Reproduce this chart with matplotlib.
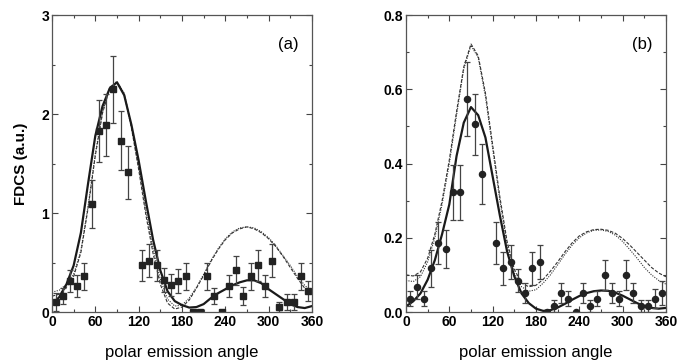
import numpy as np
import matplotlib
matplotlib.use('Agg')
import matplotlib.pyplot as plt
from matplotlib.ticker import MultipleLocator

plt.rcParams['font.family'] = ['Liberation Sans', 'DejaVu Sans']

# measured points (every 10 deg, 115 deg missing)
ang_pts = [5, 15, 25, 35, 45, 55, 65, 75, 85, 95, 105, 125, 135, 145, 155, 165, 175,
           185, 195, 205, 215, 225, 235, 245, 255, 265, 275, 285, 295, 305, 315, 325,
           335, 345, 355]

fdcs_a = [0.10, 0.16, 0.31, 0.26, 0.36, 1.09, 1.83, 1.89, 2.25, 1.73, 1.41, 0.47, 0.52,
          0.47, 0.32, 0.27, 0.31, 0.36, 0.0, 0.0, 0.36, 0.16, 0.0, 0.26, 0.42, 0.16,
          0.36, 0.47, 0.26, 0.52, 0.05, 0.10, 0.10, 0.36, 0.21]
err_a = [0.09, 0.08, 0.11, 0.11, 0.14, 0.24, 0.31, 0.31, 0.34, 0.30, 0.27, 0.16, 0.17,
         0.16, 0.12, 0.11, 0.12, 0.14, 0.0, 0.0, 0.14, 0.08, 0.0, 0.11, 0.15, 0.09,
         0.14, 0.16, 0.11, 0.17, 0.05, 0.08, 0.08, 0.14, 0.10]

fdcs_b = [0.036, 0.067, 0.036, 0.118, 0.186, 0.17, 0.322, 0.322, 0.574, 0.506, 0.372,
          0.186, 0.118, 0.135, 0.084, 0.051, 0.118, 0.135, 0.0, 0.017, 0.051, 0.036,
          0.0, 0.051, 0.017, 0.036, 0.1, 0.051, 0.036, 0.1, 0.051, 0.017, 0.017, 0.036,
          0.051]
err_b = [0.02, 0.033, 0.02, 0.05, 0.057, 0.052, 0.074, 0.074, 0.10, 0.082, 0.08, 0.057,
         0.044, 0.045, 0.031, 0.028, 0.044, 0.045, 0.0, 0.016, 0.028, 0.02, 0.0, 0.028,
         0.016, 0.02, 0.04, 0.028, 0.02, 0.04, 0.028, 0.016, 0.016, 0.025, 0.033]

# theory curves, read every 10 deg
ang_th = list(range(0, 361, 10))

solid_a = [0.08, 0.15, 0.28, 0.47, 0.80, 1.30, 1.78, 2.08, 2.26, 2.32, 2.19, 1.89, 1.53,
           1.12, 0.73, 0.42, 0.21, 0.11, 0.07, 0.045, 0.05, 0.08, 0.14, 0.19, 0.23, 0.27,
           0.30, 0.32, 0.32, 0.29, 0.23, 0.18, 0.13, 0.08, 0.05, 0.04, 0.06]
dot_a = [0.20, 0.22, 0.28, 0.38, 0.62, 1.07, 1.60, 2.02, 2.27, 2.33, 2.21, 1.88, 1.47,
         1.02, 0.64, 0.33, 0.13, 0.06, 0.07, 0.14, 0.25, 0.38, 0.52, 0.64, 0.74, 0.81,
         0.85, 0.86, 0.85, 0.81, 0.75, 0.67, 0.57, 0.47, 0.36, 0.27, 0.20]
dash_a = [0.16, 0.18, 0.25, 0.36, 0.60, 1.05, 1.58, 2.01, 2.26, 2.32, 2.20, 1.86, 1.44,
          0.98, 0.59, 0.28, 0.09, 0.03, 0.05, 0.12, 0.24, 0.37, 0.51, 0.63, 0.73, 0.80,
          0.84, 0.86, 0.84, 0.80, 0.74, 0.66, 0.56, 0.45, 0.34, 0.24, 0.17]

solid_b = [0.015, 0.029, 0.05, 0.087, 0.14, 0.21, 0.29, 0.42, 0.51, 0.552, 0.53, 0.47,
           0.365, 0.26, 0.163, 0.096, 0.05, 0.024, 0.009, 0.003, 0.005, 0.012, 0.022,
           0.033, 0.043, 0.051, 0.056, 0.058, 0.057, 0.052, 0.044, 0.034, 0.024, 0.016,
           0.011, 0.009, 0.011]
dash_b = [0.100, 0.097, 0.108, 0.145, 0.21, 0.30, 0.41, 0.54, 0.66, 0.722, 0.69, 0.59,
          0.45, 0.31, 0.19, 0.115, 0.078, 0.068, 0.072, 0.088, 0.11, 0.135, 0.162, 0.186,
          0.205, 0.216, 0.222, 0.223, 0.22, 0.212, 0.198, 0.18, 0.16, 0.14, 0.12, 0.105,
          0.095]
dot_b = [0.085, 0.082, 0.095, 0.135, 0.20, 0.29, 0.40, 0.53, 0.655, 0.718, 0.685, 0.58,
         0.44, 0.30, 0.18, 0.105, 0.068, 0.056, 0.06, 0.078, 0.10, 0.127, 0.155, 0.18,
         0.20, 0.213, 0.22, 0.221, 0.217, 0.207, 0.19, 0.168, 0.145, 0.12, 0.1, 0.085,
         0.075]

fig = plt.figure(figsize=(6.77, 3.6), dpi=100)
ax_a = fig.add_axes([0.0768, 0.1333, 0.384, 0.825])
ax_b = fig.add_axes([0.5997, 0.1333, 0.384, 0.825])

panels = [
    (ax_a, fdcs_a, err_a, solid_a, dot_a, dash_a, 's', 3.0, 1.0, 0.5, '(a)', '%d'),
    (ax_b, fdcs_b, err_b, solid_b, dot_b, dash_b, 'o', 0.8, 0.2, 0.1, '(b)', '%.1f'),
]

for ax, y, e, s, d1, d2, mk, ymax, ymaj, ymin, tag, fmt in panels:
    ax.plot(ang_th, d1, color='#333333', lw=0.8, ls=(0, (1, 1.2)))
    ax.plot(ang_th, d2, color='#333333', lw=0.8, ls=(0, (3, 1.5)))
    ax.plot(ang_th, s, color='#1a1a1a', lw=1.6)
    ax.errorbar(ang_pts, y, yerr=e, fmt=mk, ms=4.4, color='#222222', ecolor='#444444',
                elinewidth=0.9, capsize=2.2, capthick=0.9)
    ax.set_xlim(0, 360)
    ax.set_ylim(0, ymax)
    ax.xaxis.set_major_locator(MultipleLocator(60))
    ax.xaxis.set_minor_locator(MultipleLocator(30))
    ax.yaxis.set_major_locator(MultipleLocator(ymaj))
    ax.yaxis.set_minor_locator(MultipleLocator(ymin))
    ax.yaxis.set_major_formatter(plt.FormatStrFormatter(fmt))
    ax.tick_params(which='both', direction='in', top=True, right=True,
                   color='#444444', width=0.8)
    ax.tick_params(which='major', length=4, labelsize=10, pad=2)
    ax.tick_params(which='minor', length=2.5)
    for lab in ax.get_xticklabels() + ax.get_yticklabels():
        lab.set_fontweight('bold')
    for sp in ax.spines.values():
        sp.set_color('#555555')
        sp.set_linewidth(0.9)
    ax.set_xlabel('polar emission angle', fontsize=12, labelpad=12)
    ax.text(0.91, 0.9, tag, transform=ax.transAxes, fontsize=12, ha='center', va='center')

ax_a.set_ylabel('FDCS (a.u.)', fontsize=11, fontweight='bold', labelpad=10)

fig.savefig('out.png', dpi=100)
plt.close(fig)
